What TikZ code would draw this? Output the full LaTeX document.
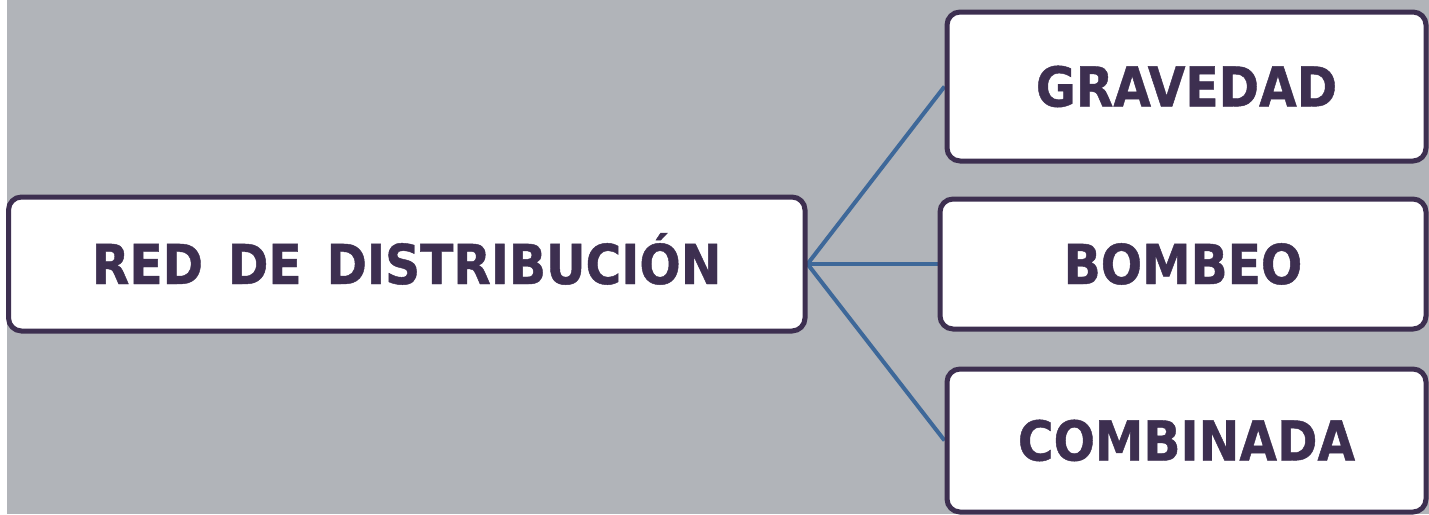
\documentclass[tikz,border=0pt]{standalone}
\usepackage{fontspec}
\usetikzlibrary{backgrounds}
\newfontfamily\lab{DejaVu Sans}[FakeStretch=0.885, BoldFeatures={FakeBold=0.8}]
\definecolor{bggray}{HTML}{B1B4B9}
\definecolor{ink}{HTML}{3D2F50}
\definecolor{wire}{HTML}{3E6899}
\tikzset{
  box/.style={draw=ink, line width=5pt, fill=white, rounded corners=13pt,
    inner sep=0pt, text=ink, font=\lab\bfseries\fontsize{55}{60}\selectfont,
    text height=40pt, text depth=0pt},
  link/.style={draw=wire, line width=4pt}
}
\begin{document}
\begin{tikzpicture}[x=1pt,y=-1pt]
\useasboundingbox (0,0) rectangle (1429,514);
\node[box, minimum width=796.5pt, minimum height=134pt] (red) at (406.75,264) {RED\hspace{8pt} DE\hspace{8pt} DISTRIBUCIÓN};
\node[box, minimum width=479pt, minimum height=149pt] (grav) at (1186.5,86.5) {GRAVEDAD};
\node[box, minimum width=486pt, minimum height=130pt] (bomb) at (1183,264) {BOMBEO};
\node[box, minimum width=479pt, minimum height=143pt] (comb) at (1186.5,440.5) {COMBINADA};
\begin{scope}[on background layer]
\fill[white] (0,0) rectangle (1429,514);
\fill[bggray] (7,0) rectangle (1429,514);
\draw[link] (red.east) -- (grav.west);
\draw[link] (red.east) -- (bomb.west);
\draw[link] (red.east) -- (comb.west);
\end{scope}
\end{tikzpicture}
\end{document}
